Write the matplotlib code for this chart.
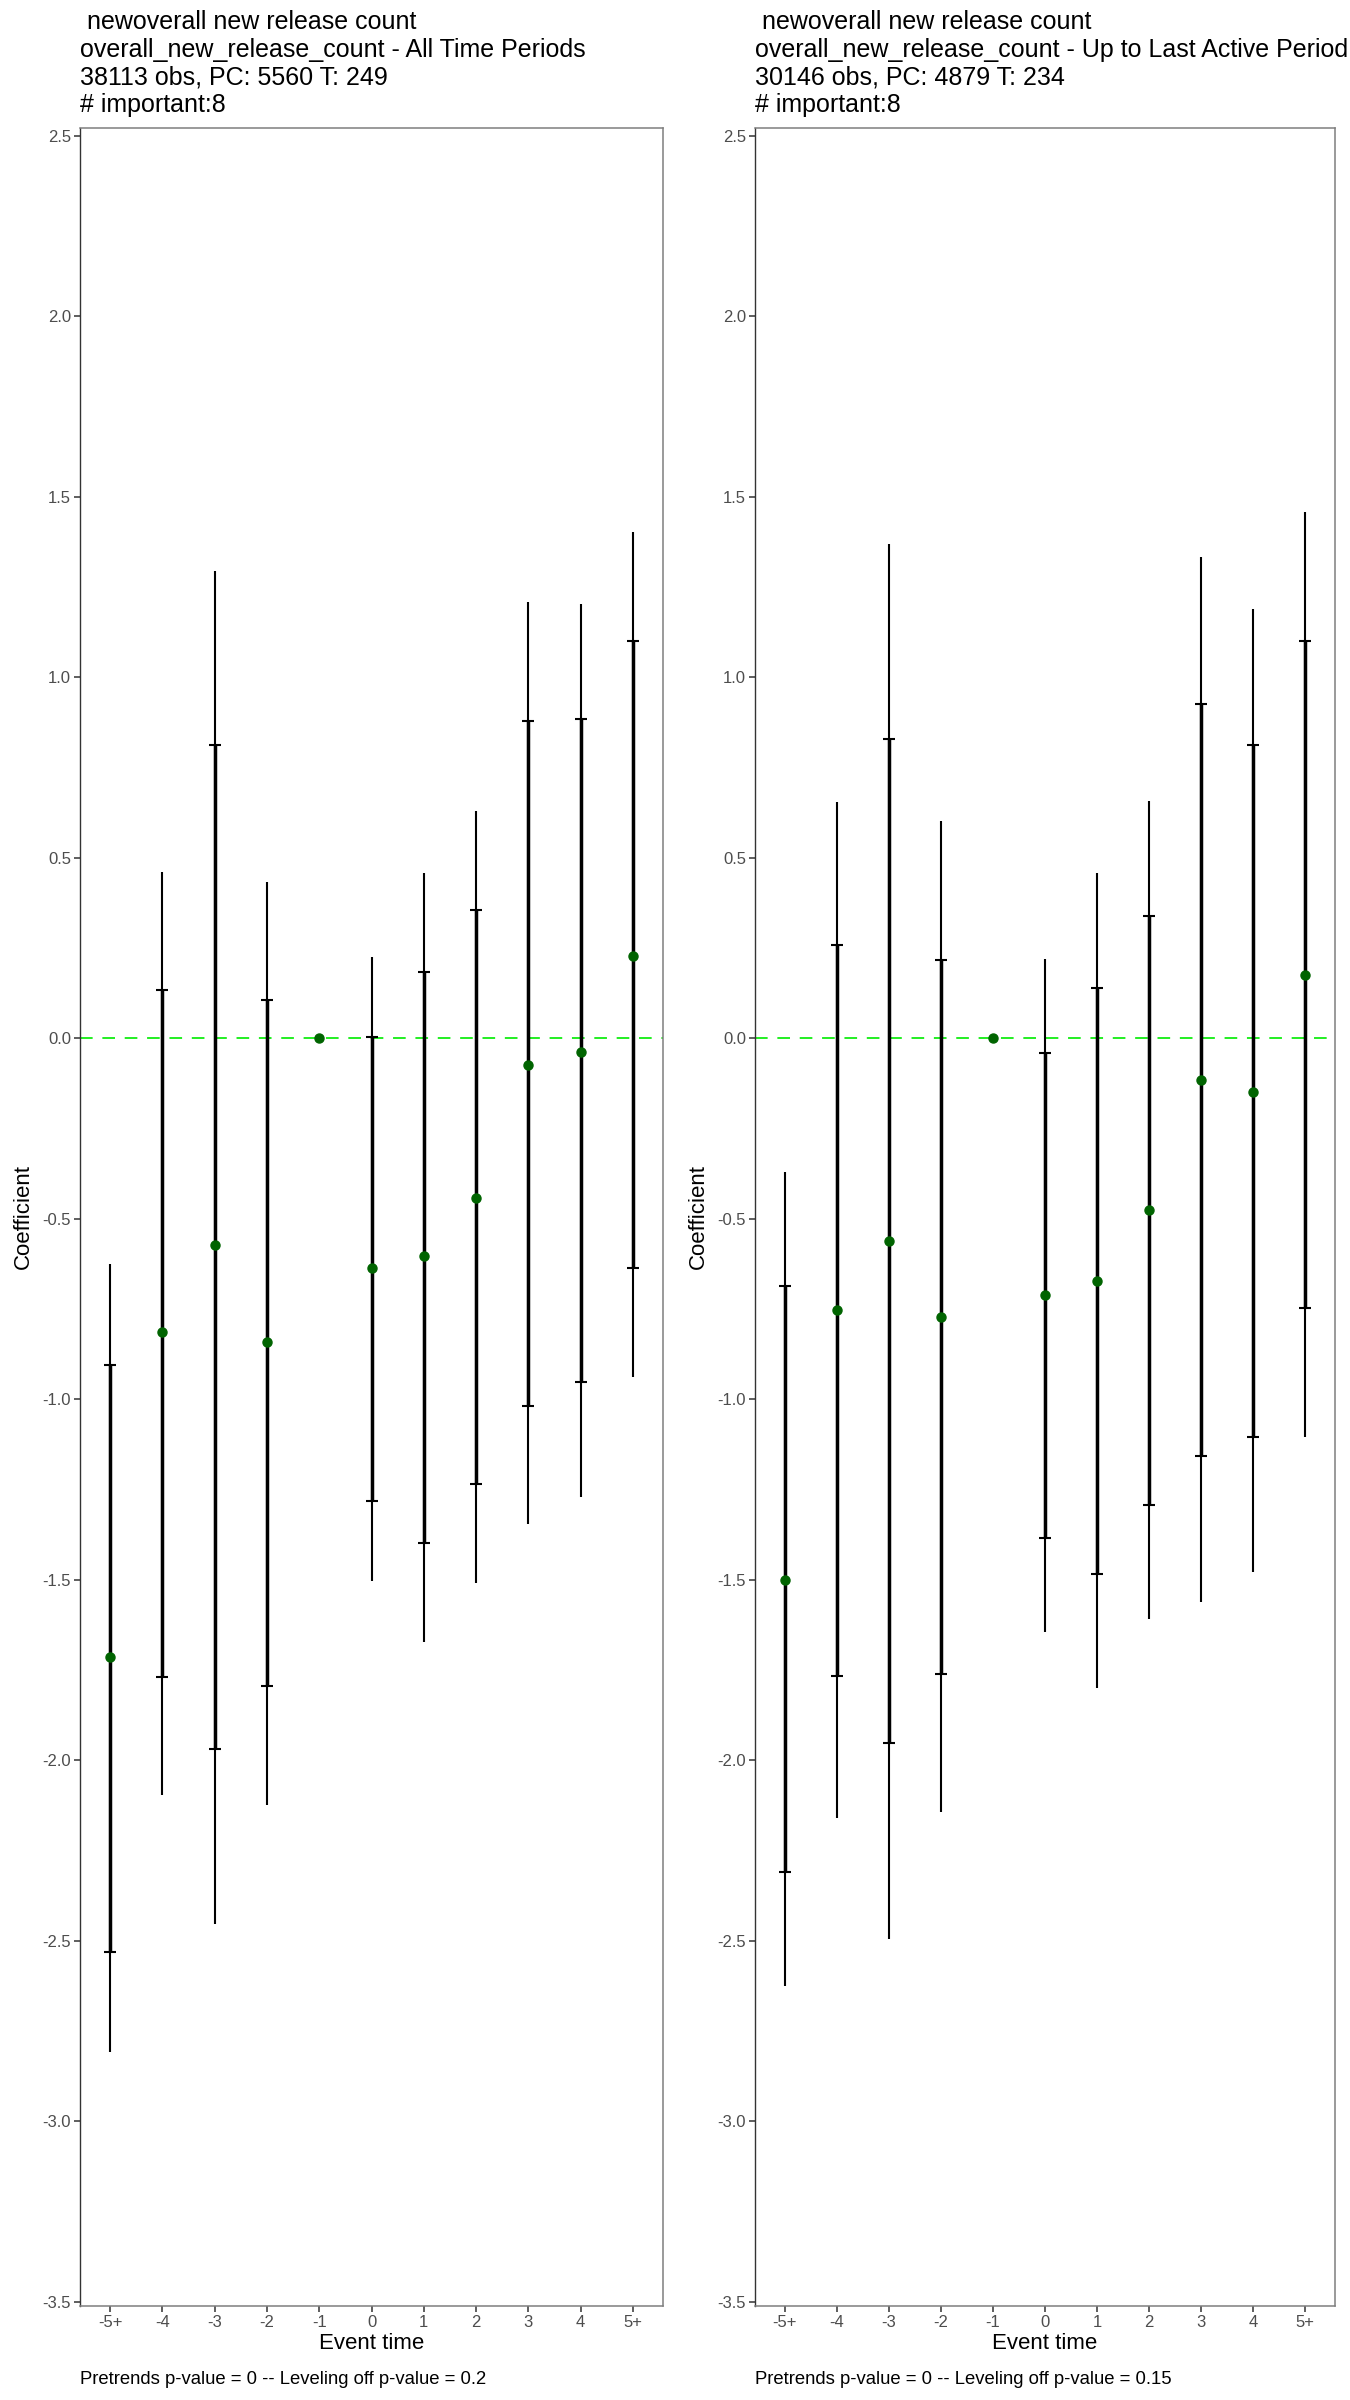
import numpy as np
import matplotlib
matplotlib.use("Agg")
import matplotlib.pyplot as plt

plt.rcParams['font.family'] = ['Liberation Sans', 'DejaVu Sans']
plt.rcParams['axes.unicode_minus'] = False

event_time = ['-5+', '-4', '-3', '-2', '-1', '0', '1', '2', '3', '4', '5+']

# left panel: all time periods
all_est = [-1.715, -0.815, -0.574, -0.841, 0.0, -0.637, -0.604, -0.443, -0.073, -0.037, 0.229]
all_in_lo = [-2.530, -1.770, -1.969, -1.794, np.nan, -1.283, -1.398, -1.235, -1.019, -0.953, -0.637]
all_in_hi = [-0.904, 0.133, 0.813, 0.107, np.nan, 0.003, 0.184, 0.355, 0.879, 0.885, 1.101]
all_out_lo = [-2.809, -2.097, -2.453, -2.123, np.nan, -1.504, -1.673, -1.510, -1.347, -1.271, -0.938]
all_out_hi = [-0.626, 0.461, 1.295, 0.433, np.nan, 0.224, 0.457, 0.629, 1.208, 1.204, 1.401]

# right panel: up to last active period
act_est = [-1.500, -0.753, -0.562, -0.772, 0.0, -0.712, -0.672, -0.476, -0.117, -0.148, 0.175]
act_in_lo = [-2.311, -1.766, -1.953, -1.760, np.nan, -1.384, -1.484, -1.292, -1.156, -1.104, -0.747]
act_in_hi = [-0.686, 0.258, 0.828, 0.217, np.nan, -0.042, 0.140, 0.339, 0.926, 0.813, 1.099]
act_out_lo = [-2.626, -2.161, -2.495, -2.144, np.nan, -1.646, -1.801, -1.610, -1.561, -1.478, -1.104]
act_out_hi = [-0.371, 0.653, 1.370, 0.602, np.nan, 0.220, 0.457, 0.657, 1.332, 1.188, 1.457]

titles = [
    " newoverall new release count\noverall_new_release_count - All Time Periods\n38113 obs, PC: 5560 T: 249\n# important:8",
    " newoverall new release count\noverall_new_release_count - Up to Last Active Period\n30146 obs, PC: 4879 T: 234\n# important:8",
]
captions = [
    "Pretrends p-value = 0 -- Leveling off p-value = 0.2",
    "Pretrends p-value = 0 -- Leveling off p-value = 0.15",
]
y_ticks = np.arange(-3.5, 2.51, 0.5)

W, H = 1350, 2400
fig = plt.figure(figsize=(13.5, 24), dpi=100)
ax_bottom = 1 - 2305.7 / H
ax_height = (2305.7 - 127.7) / H
panels = [
    (80 / W, 583 / W, all_est, all_in_lo, all_in_hi, all_out_lo, all_out_hi),
    (755 / W, 580 / W, act_est, act_in_lo, act_in_hi, act_out_lo, act_out_hi),
]


def draw_panel(ax, est, in_lo, in_hi, out_lo, out_hi):
    est = np.array(est)
    in_lo, in_hi = np.array(in_lo), np.array(in_hi)
    has_ci = ~np.isnan(in_lo)
    xs = [event_time[i] for i in range(len(event_time)) if has_ci[i]]

    ax.plot(event_time, est, 'none')
    ax.axhline(0, color='#22EE22', lw=1.4, ls=(0, (6.5, 5)), zorder=1)
    ax.vlines(xs, np.array(out_lo)[has_ci], np.array(out_hi)[has_ci],
              color='black', lw=1.5, zorder=2)
    ax.errorbar(xs, est[has_ci], yerr=[est[has_ci] - in_lo[has_ci], in_hi[has_ci] - est[has_ci]],
                fmt='none', ecolor='black', elinewidth=2.5, capsize=4.5, capthick=1.5, zorder=3)
    ax.plot(event_time, est, 'o', color='#006400', ms=6.5, mec='#006400', zorder=4)

    ax.set_xlim(-0.575, 10.575)
    ax.set_ylim(-3.511, 2.522)
    ax.set_yticks(y_ticks)
    ax.set_yticklabels([f"{v:.1f}" for v in y_ticks])
    ax.tick_params(axis='both', colors='#333333', labelcolor='#4D4D4D', labelsize=12,
                   length=4.0, width=1.1, pad=2.5)
    for side in ['top', 'right', 'bottom']:
        ax.spines[side].set_color('#7F7F7F')
        ax.spines[side].set_linewidth(1.1)
    ax.spines['left'].set_color('#333333')
    ax.spines['left'].set_linewidth(1.0)
    ax.set_xlabel('Event time', fontsize=16, labelpad=2)
    ax.set_ylabel('Coefficient', fontsize=16, labelpad=6)


for i, (left, width, est, in_lo, in_hi, out_lo, out_hi) in enumerate(panels):
    ax = fig.add_axes([left, ax_bottom, width, ax_height])
    draw_panel(ax, est, in_lo, in_hi, out_lo, out_hi)
    fig.text(left, 1 - 10 / H, titles[i], fontsize=18, va='top', ha='left', linespacing=1.2)
    fig.text(left, 1 - 2380 / H, captions[i], fontsize=13.3, va='center', ha='left')

fig.savefig('out.png', dpi=100, facecolor='white')
